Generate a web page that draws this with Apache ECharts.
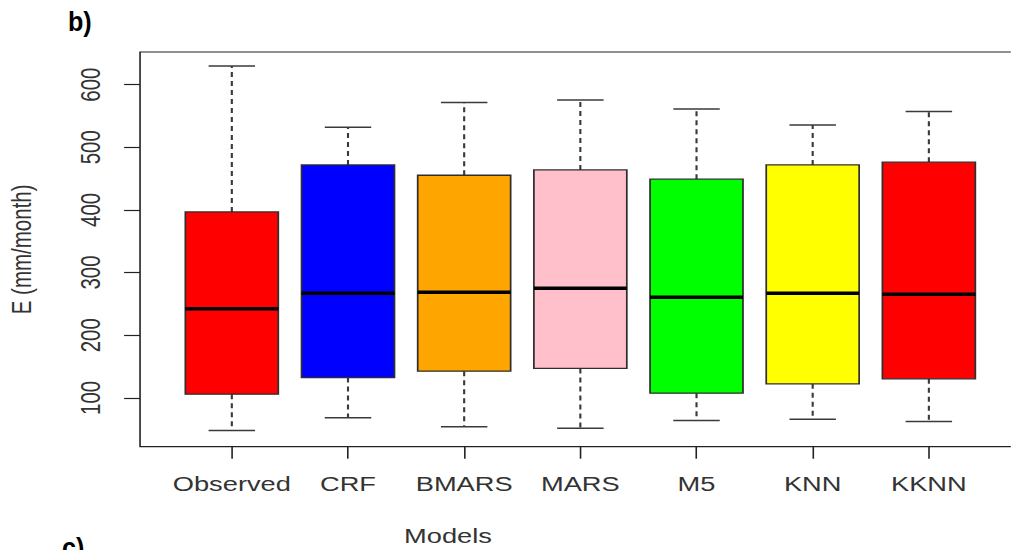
<!DOCTYPE html>
<html>
<head>
<meta charset="utf-8">
<script src="https://cdn.jsdelivr.net/npm/echarts@6/dist/echarts.min.js"></script>
<style>
  html, body { margin: 0; padding: 0; background: #fff; overflow: hidden; }
  #wrap { width: 1011px; height: 550px; overflow: hidden; position: relative; background: #fff; }
  #chart { width: 760px; height: 550px; transform: scaleX(1.33); transform-origin: 0 0; }
</style>
</head>
<body>
<div id="wrap"><div id="chart"></div></div>
<script>
// ---- data ----
const categories   = ['Observed', 'CRF', 'BMARS', 'MARS', 'M5', 'KNN', 'KKNN'];
const lowerWhisker = [47.9, 68.1, 53.7, 51.6, 63.8, 66.0, 62.2];
const q1           = [105.9, 132.4, 142.6, 147.0, 107.5, 122.3, 130.3];
const median       = [242.0, 267.1, 268.7, 275.0, 260.7, 267.1, 265.5];
const q3           = [396.8, 471.8, 455.3, 463.8, 449.0, 471.8, 476.1];
const upperWhisker = [629.8, 532.0, 571.2, 575.5, 561.1, 535.6, 556.9];
const yTicks       = [100, 200, 300, 400, 500, 600];
const boxColors    = ['#FF0000', '#0000FF', '#FFA500', '#FFC0CB', '#00FF00', '#FFFF00', '#FF0000'];

const xPositions = categories.map((c, i) => i + 1);
const seriesData = categories.map((c, i) => [xPositions[i], lowerWhisker[i], q1[i], median[i], q3[i], upperWhisker[i]]);

const FONT = "'Liberation Sans', Arial, sans-serif";
const BOX_HALF = 0.4, CAP_HALF = 0.2;

const chart = echarts.init(document.getElementById('chart'), null, { renderer: 'svg' });

function renderItem(params, api) {
  const x = api.value(0);
  const lw = api.value(1), b1 = api.value(2), md = api.value(3), b3 = api.value(4), uw = api.value(5);
  const c = api.coord([x, md]);
  const pLw = api.coord([x, lw]), pQ1 = api.coord([x, b1]), pQ3 = api.coord([x, b3]), pUw = api.coord([x, uw]);
  const xl = api.coord([x - BOX_HALF, md])[0], xr = api.coord([x + BOX_HALF, md])[0];
  const cl = api.coord([x - CAP_HALF, md])[0], cr = api.coord([x + CAP_HALF, md])[0];
  const whisk = { stroke: '#3a3a3a', lineWidth: 1.6, lineDash: [5, 4] };
  const cap = { stroke: '#3a3a3a', lineWidth: 1.5 };
  return {
    type: 'group',
    children: [
      { type: 'line', shape: { x1: c[0], y1: pQ3[1], x2: c[0], y2: pUw[1] }, style: whisk },
      { type: 'line', shape: { x1: c[0], y1: pQ1[1], x2: c[0], y2: pLw[1] }, style: whisk },
      { type: 'line', shape: { x1: cl, y1: pUw[1], x2: cr, y2: pUw[1] }, style: cap },
      { type: 'line', shape: { x1: cl, y1: pLw[1], x2: cr, y2: pLw[1] }, style: cap },
      { type: 'rect', shape: { x: xl, y: pQ3[1], width: xr - xl, height: pQ1[1] - pQ3[1] },
        style: { fill: boxColors[params.dataIndex], stroke: '#2e2e2e', lineWidth: 1.3 } },
      { type: 'line', shape: { x1: xl, y1: c[1], x2: xr, y2: c[1] }, style: { stroke: '#000', lineWidth: 3.5 } }
    ]
  };
}

const option = {
  animation: false,
  backgroundColor: '#fff',
  grid: { left: 105.3, right: -7.4, top: 52, bottom: 103.3, outerBoundsMode: 'none', containLabel: false,
          show: true, borderColor: '#222', borderWidth: 1.2, backgroundColor: 'transparent' },
  xAxis: {
    type: 'value', min: 0.21, max: 7.79,
    axisLine: { show: false },
    splitLine: { show: false },
    axisTick: { show: true, customValues: xPositions, length: 12, lineStyle: { color: '#222', width: 1.2 } },
    axisLabel: { customValues: xPositions, formatter: v => categories[Math.round(v) - 1], margin: 27,
                 fontSize: 20.5, color: '#333', fontFamily: FONT }
  },
  yAxis: {
    type: 'value', min: 22, max: 652,
    name: 'E (mm/month)', nameLocation: 'middle', nameGap: 79,
    nameTextStyle: { fontSize: 20.5, color: '#333', fontFamily: FONT },
    axisLine: { show: false },
    splitLine: { show: false },
    axisTick: { show: true, customValues: yTicks, length: 12, lineStyle: { color: '#222', width: 1.2 } },
    axisLabel: { customValues: yTicks, rotate: 90, margin: 27, fontSize: 20.5, color: '#333', fontFamily: FONT }
  },
  graphic: [
    { type: 'text', x: 336.8, y: 535.5, style: { text: 'Models', font: "20.5px " + FONT, fill: '#333', textAlign: 'center', textVerticalAlign: 'middle' } },
    { type: 'text', x: 51.1, y: 8, scaleX: 0.7, style: { text: 'b)', font: "bold 27px " + FONT, fill: '#000', textAlign: 'left', textVerticalAlign: 'top' } },
    { type: 'text', x: 46.6, y: 534, scaleX: 0.7, style: { text: 'c)', font: "bold 27px " + FONT, fill: '#000', textAlign: 'left', textVerticalAlign: 'top' } }
  ],
  series: [{
    type: 'custom',
    renderItem: renderItem,
    encode: { x: 0, y: [1, 2, 3, 4, 5] },
    data: seriesData
  }]
};
chart.setOption(option);
</script>
</body>
</html>
